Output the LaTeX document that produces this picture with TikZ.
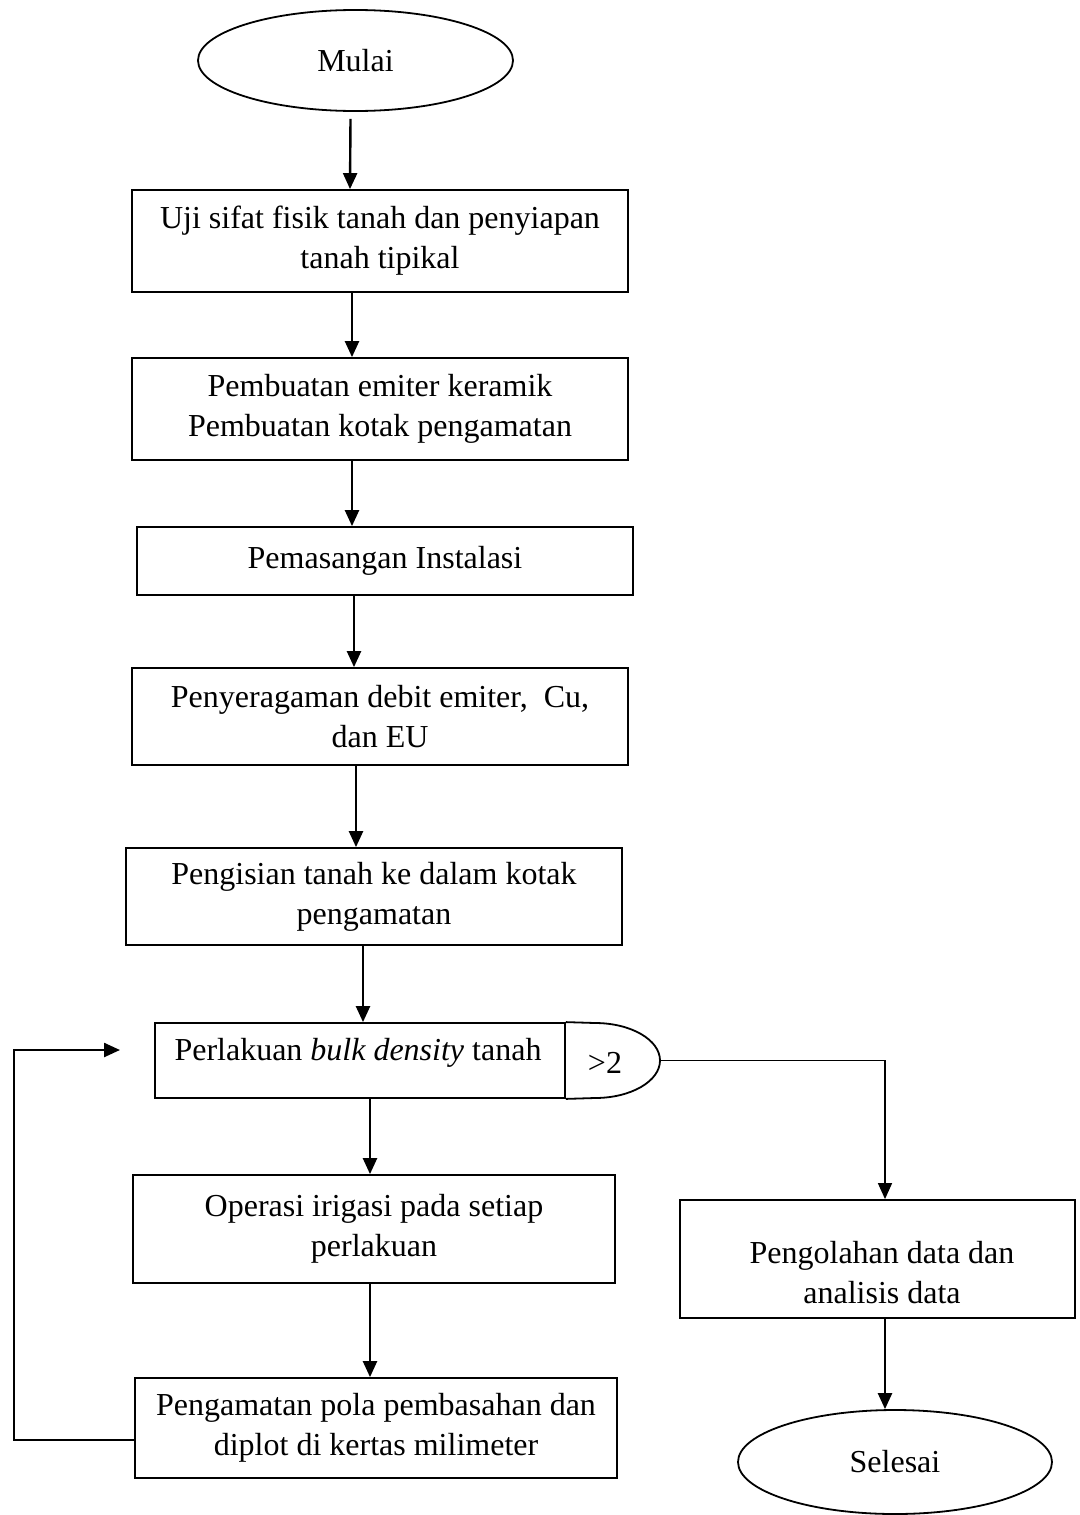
\documentclass[tikz,border=0pt]{standalone}
\usepackage{fontspec}
\setmainfont{Liberation Serif}
\usetikzlibrary{shapes.geometric,arrows.meta,calc}
\begin{document}
\begin{tikzpicture}[x=0.5pt,y=-0.5pt,
  box/.style={draw,line width=0.9pt,rectangle,align=center,font=\fontsize{16}{20}\selectfont,inner sep=0pt},
  term/.style={draw,line width=0.9pt,ellipse,font=\fontsize{16}{20}\selectfont,inner sep=0pt},
  txt/.style={align=center,font=\fontsize{16}{20}\selectfont,inner sep=0pt},
  arr/.style={line width=1.2pt,-{Triangle[length=8pt,width=7pt]}},
  thinarr/.style={line width=0.7pt,-{Triangle[length=8pt,width=7pt]}},
  conn/.style={line width=0.9pt}]
\useasboundingbox (0,0) rectangle (1080,1515);
% nodes
\node[term,minimum width=157.5pt,minimum height=50.5pt] (m) at (355.5,60.5) {Mulai};
\node[box,minimum width=248pt,minimum height=51pt] (b1) at (380,241) {Uji sifat fisik tanah dan penyiapan\\tanah tipikal};
\node[box,minimum width=248pt,minimum height=51pt] (b2) at (380,409) {Pembuatan emiter keramik\\Pembuatan kotak pengamatan};
\node[box,minimum width=248pt,minimum height=34pt] (b3) at (385,561) {Pemasangan Instalasi};
\node[box,minimum width=248pt,minimum height=48.5pt] (b4) at (380,716.5) {Penyeragaman debit emiter,~ Cu,\\dan EU};
\node[box,minimum width=248pt,minimum height=48.5pt] (b5) at (374,896.5) {Pengisian tanah ke dalam kotak\\pengamatan};
\node[box,minimum width=205pt,minimum height=37.5pt] (b6) at (360,1060.5) {};
\node[txt] (t6) at (358,1053) {Perlakuan \textit{bulk density} tanah};
\draw[conn] (b6.north east) -- (595,1023)
  .. controls (630.9,1023) and (660,1039.8) .. (660,1060.5)
  .. controls (660,1081.2) and (630.9,1098) .. (595,1098) -- (b6.south east);
\coordinate (dR) at (660,1060.5);
\node[txt] (g) at (605,1063) {>2};
\node[box,minimum width=241pt,minimum height=54pt] (b8) at (374,1229) {Operasi irigasi pada setiap\\perlakuan};
\node[box,minimum width=241pt,minimum height=50pt] (b9) at (376,1428) {Pengamatan pola pembasahan dan\\diplot di kertas milimeter};
\node[box,minimum width=197.5pt,minimum height=59pt] (b7) at (877.5,1259) {};
\node[txt] (t7) at (882,1273) {Pengolahan data dan\\analisis data};
\node[term,minimum width=157pt,minimum height=52pt] (s) at (895,1462) {Selesai};
% connectors
\draw[arr] ([xshift=-2.5pt,yshift=-3.5pt]m.south) -- ([xshift=-15pt]b1.north);
\draw[arr] ([xshift=-14pt]b1.south) -- ([xshift=-14pt]b2.north);
\draw[arr] ([xshift=-14pt]b2.south) -- ([xshift=-16.5pt]b3.north);
\draw[arr] ([xshift=-15.5pt]b3.south) -- ([xshift=-13pt]b4.north);
\draw[arr] ([xshift=-12pt]b4.south) -- ([xshift=-9pt]b5.north);
\draw[arr] ([xshift=-5.5pt]b5.south) -- ([xshift=1.5pt]b6.north);
\draw[arr] ([xshift=5pt]b6.south) -- ([xshift=-2pt]b8.north);
\draw[arr] ([xshift=-2pt]b8.south) -- ([xshift=-3pt]b9.north);
\draw[thinarr] (dR) -| ([xshift=3.75pt]b7.north);
\draw[arr] ([xshift=3.75pt]b7.south) -- ([xshift=-5pt]s.north);
\coordinate (le) at (120,1050);
\draw[arr] ([yshift=-6pt]b9.west) -- ++(-120,0) |- (le);
\end{tikzpicture}
\end{document}
